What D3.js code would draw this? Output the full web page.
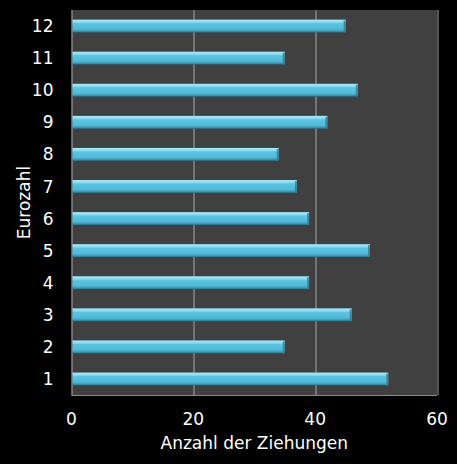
<!DOCTYPE html>
<html>
<head>
<meta charset="utf-8">
<script src="https://cdn.jsdelivr.net/npm/d3@7"></script>
<style>
  html, body { margin: 0; padding: 0; background: #000; }
  svg { display: block; }
</style>
</head>
<body>
<svg id="chart" width="457" height="464"></svg>
<script>
// Eurozahl frequencies
var eurozahlen = ["1", "2", "3", "4", "5", "6", "7", "8", "9", "10", "11", "12"];
var ziehungen = [52, 35, 46, 39, 49, 39, 37, 34, 42, 47, 35, 45];
var xTicks = [0, 20, 40, 60];

var svg = d3.select("#chart"),
    width = +svg.attr("width"),
    height = +svg.attr("height");

var margin = { top: 10, right: 20, bottom: 69, left: 71.5 };
var plotW = width - margin.left - margin.right,
    plotH = height - margin.top - margin.bottom;

var font = "'DejaVu Sans', sans-serif";

var data = eurozahlen.map(function(d, i) { return { nr: d, value: ziehungen[i] }; });

var x = d3.scaleLinear().domain([0, 60]).range([0, plotW]);
var y = d3.scaleBand().domain(eurozahlen.slice().reverse()).range([0, plotH]).paddingInner(0.6).paddingOuter(0.3);

// gradient for the bevelled bars
var defs = svg.append("defs");
var grad = defs.append("linearGradient").attr("id", "barGrad")
    .attr("x1", 0).attr("y1", 0).attr("x2", 0).attr("y2", 1);
grad.append("stop").attr("offset", "0%").attr("stop-color", "#acebfa");
grad.append("stop").attr("offset", "22%").attr("stop-color", "#86d8ee");
grad.append("stop").attr("offset", "30%").attr("stop-color", "#5cc5e2");
grad.append("stop").attr("offset", "75%").attr("stop-color", "#4fb9d7");
grad.append("stop").attr("offset", "88%").attr("stop-color", "#3e9db8");
grad.append("stop").attr("offset", "100%").attr("stop-color", "#2b7086");

var g = svg.append("g").attr("transform", "translate(" + margin.left + "," + margin.top + ")");

// plot background
g.append("rect")
    .attr("width", plotW).attr("height", plotH)
    .attr("fill", "#404040");

// vertical grid lines
g.selectAll("line.grid")
    .data(xTicks.slice(1))
    .enter().append("line")
    .attr("class", "grid")
    .attr("x1", function(d) { return Math.round(x(d)) + 0.5; })
    .attr("x2", function(d) { return Math.round(x(d)) + 0.5; })
    .attr("y1", 0).attr("y2", plotH)
    .attr("stroke", "#a8a8a8").attr("stroke-width", 1);

// bottom line and left axis line
g.append("line").attr("x1", 0).attr("x2", plotW).attr("y1", plotH + 0.5).attr("y2", plotH + 0.5)
    .attr("stroke", "#8a8a8a");
g.append("line").attr("x1", 0.5).attr("x2", 0.5).attr("y1", 0).attr("y2", plotH)
    .attr("stroke", "#a8a8a8");

// bars
var bars = g.selectAll("g.bar")
    .data(data)
    .enter().append("g")
    .attr("class", "bar");

bars.append("rect")
    .attr("x", 1)
    .attr("y", function(d) { return y(d.nr); })
    .attr("width", function(d) { return x(d.value) - 1; })
    .attr("height", y.bandwidth())
    .attr("fill", "url(#barGrad)");

// darker bevel at the right end
bars.append("rect")
    .attr("x", function(d) { return x(d.value) - 2; })
    .attr("y", function(d) { return y(d.nr) + 1; })
    .attr("width", 2)
    .attr("height", y.bandwidth() - 1)
    .attr("fill", "#2f7f96")
    .attr("opacity", 0.8);

// x axis tick labels
g.selectAll("text.xtick")
    .data(xTicks)
    .enter().append("text")
    .attr("class", "xtick")
    .attr("x", function(d) { return x(d); })
    .attr("y", plotH + 30)
    .attr("text-anchor", "middle")
    .attr("fill", "#ffffff")
    .style("font-family", font)
    .style("font-size", "17px")
    .text(function(d) { return d; });

// y axis tick labels
g.selectAll("text.ytick")
    .data(eurozahlen)
    .enter().append("text")
    .attr("class", "ytick")
    .attr("x", -18)
    .attr("y", function(d) { return y(d) + y.bandwidth() / 2; })
    .attr("dy", "0.36em")
    .attr("text-anchor", "end")
    .attr("fill", "#ffffff")
    .style("font-family", font)
    .style("font-size", "17px")
    .text(function(d) { return d; });

// axis titles
svg.append("text")
    .attr("x", margin.left + plotW / 2)
    .attr("y", 449)
    .attr("text-anchor", "middle")
    .attr("fill", "#ffffff")
    .style("font-family", font)
    .style("font-size", "17px")
    .text("Anzahl der Ziehungen");

svg.append("text")
    .attr("transform", "translate(30," + (margin.top + plotH / 2) + ") rotate(-90)")
    .attr("text-anchor", "middle")
    .attr("fill", "#ffffff")
    .style("font-family", font)
    .style("font-size", "17px")
    .text("Eurozahl");
</script>
</body>
</html>
